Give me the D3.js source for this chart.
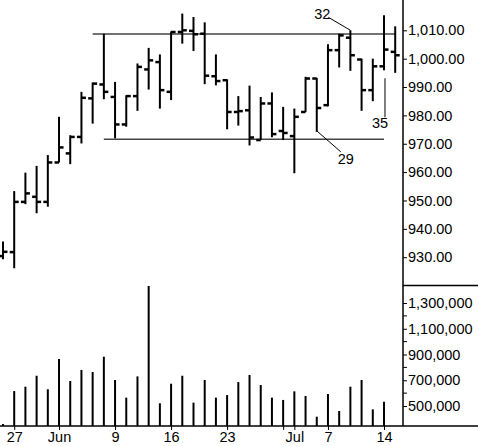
<!DOCTYPE html>
<html>
<head>
<meta charset="utf-8">
<script src="https://cdn.jsdelivr.net/npm/d3@7"></script>
<style>
  body { margin: 0; background: #fff; }
  svg { display: block; }
  text { font-family: "Liberation Sans", Arial, sans-serif; font-size: 14.5px; fill: #000; }
</style>
</head>
<body>
<div id="chart"></div>
<script>
// daily bars, 2003-05-23 .. 2003-07-15
const dates = ["05-23","05-27","05-28","05-29","05-30","06-02","06-03","06-04","06-05","06-06",
  "06-09","06-10","06-11","06-12","06-13","06-16","06-17","06-18","06-19","06-20",
  "06-23","06-24","06-25","06-26","06-27","06-30","07-01","07-02","07-03","07-07",
  "07-08","07-09","07-10","07-11","07-14","07-15"];
const open  = [930.4,931.8,949.5,951.3,949.5,963.4,966.6,972.4,986.0,990.9,
  986.5,976.8,986.8,996.2,998.8,988.3,1009.4,1009.8,1008.8,993.8,
  992.4,981.2,981.8,971.3,984.2,974.5,972.7,981.2,993.0,983.6,
  1003.0,1007.4,999.7,988.9,997.3,1002.4];
const high  = [935.5,953.3,959.8,962.2,966.0,979.5,973.0,988.3,991.6,1008.8,
  991.8,987.1,998.3,1003.8,1001.5,1009.6,1015.9,1014.7,1012.8,1001.5,
  992.7,986.8,990.5,986.5,988.1,983.0,982.4,993.6,993.2,1005.1,
  1008.8,1010.0,1000.0,1000.0,1015.3,1011.4];
const low   = [929.3,926.1,948.7,945.5,947.8,963.4,962.8,970.1,977.1,985.7,
  971.9,976.0,981.6,989.1,982.4,985.4,1005.3,1002.7,991.0,990.6,
  975.1,976.4,969.4,971.3,972.3,971.3,959.6,981.2,974.2,983.2,
  996.9,995.7,981.6,985.0,995.9,995.0];
const close = [931.9,949.5,952.5,949.5,963.4,968.7,972.4,986.2,991.2,988.3,
  976.8,986.8,997.1,999.4,988.9,1009.4,1010.0,1008.6,994.0,992.1,
  981.2,981.5,972.2,984.2,973.4,973.8,979.5,993.0,982.6,1003.0,
  1008.2,1001.2,988.9,997.3,1003.2,1001.2];
const volume = [360000,616000,650000,735000,630000,865000,694000,780000,764000,883000,
  702000,565000,730000,1432000,521000,673000,735000,526000,702000,565000,
  585000,686000,741000,663000,565000,547000,614000,578000,417000,593000,
  461000,650000,702000,474000,533000,null];

const priceTicks = [930,940,950,960,970,980,990,1000,1010];
const volTicks = [500000,700000,900000,1100000,1300000];
const volMinor = [600000,800000,1000000,1200000];
const volBase = 345000;

const dateTicks = ["05-27","06-02","06-09","06-16","06-23","06-30","07-01","07-07","07-14"];
const dateLabels = ["27","Jun","9","16","23","","Jul","7","14"];

// trend lines: [level, from, to]
const resistance = [1008.7, "06-05", "07-15"];
const support = [971.6, "06-06", "07-14"];

const W = 478, H = 446;
const axisX = 403, baseY = 426;

const svg = d3.select("#chart").append("svg")
  .attr("width", W).attr("height", H);

const x = d3.scalePoint().domain(dates).range([3, 395.2]);
const y = d3.scaleLinear().domain([930, 1010]).range([257.2, 30.3]);
const yv = d3.scaleLinear().domain([500000, 1300000]).range([406, 303]);

// trend lines
[resistance, support].forEach(function(t) {
  svg.append("line")
    .attr("x1", x(t[1])).attr("x2", x(t[2]))
    .attr("y1", y(t[0])).attr("y2", y(t[0]))
    .attr("stroke", "#444").attr("stroke-width", 1.5);
});

// price bars
const bars = svg.append("g");
dates.forEach(function(d, i) {
  const cx = x(d);
  bars.append("line")
    .attr("x1", cx).attr("x2", cx)
    .attr("y1", y(high[i])).attr("y2", y(low[i]))
    .attr("stroke", "#000").attr("stroke-width", 2);
  bars.append("line")
    .attr("x1", cx - 4.5).attr("x2", cx)
    .attr("y1", y(open[i])).attr("y2", y(open[i]))
    .attr("stroke", "#000").attr("stroke-width", 2.5);
  bars.append("line")
    .attr("x1", cx).attr("x2", cx + 4.5)
    .attr("y1", y(close[i])).attr("y2", y(close[i]))
    .attr("stroke", "#000").attr("stroke-width", 2.5);
});

// volume bars
svg.append("g").selectAll("line")
  .data(dates.filter((d, i) => volume[i] != null))
  .enter().append("line")
  .attr("x1", d => x(d)).attr("x2", d => x(d))
  .attr("y1", baseY)
  .attr("y2", d => yv(volume[dates.indexOf(d)]))
  .attr("stroke", "#000").attr("stroke-width", 2);

// annotations
const ann = svg.append("g").attr("stroke", "#000").attr("stroke-width", 1);
ann.append("line")
  .attr("x1", x("07-09")).attr("y1", y(high[31]))
  .attr("x2", x("07-09") - 22).attr("y2", y(high[31]) - 13);
svg.append("text").attr("x", x("07-09") - 28).attr("y", y(high[31]) - 15)
  .attr("text-anchor", "middle").attr("dominant-baseline", "middle").text("32");

ann.append("line")
  .attr("x1", x("07-03")).attr("y1", y(low[28]) - 1)
  .attr("x2", x("07-03") + 24).attr("y2", y(low[28]) + 20);
svg.append("text").attr("x", x("07-03") + 29).attr("y", y(low[28]) + 28)
  .attr("text-anchor", "middle").attr("dominant-baseline", "middle").text("29");

ann.append("line")
  .attr("x1", x("07-14") + 1).attr("y1", y(low[34]) + 8)
  .attr("x2", x("07-14") + 1).attr("y2", y(low[34]) + 47);
svg.append("text").attr("x", x("07-14") - 4).attr("y", y(low[34]) + 54)
  .attr("text-anchor", "middle").attr("dominant-baseline", "middle").text("35");

// frame lines
svg.append("line").attr("x1", axisX).attr("x2", axisX).attr("y1", 0).attr("y2", baseY)
  .attr("stroke", "#000").attr("stroke-width", 1.5);
svg.append("line").attr("x1", 0).attr("x2", W).attr("y1", baseY).attr("y2", baseY)
  .attr("stroke", "#000").attr("stroke-width", 1.5);
svg.append("line").attr("x1", axisX).attr("x2", W).attr("y1", 285.5).attr("y2", 285.5)
  .attr("stroke", "#000").attr("stroke-width", 1.5);

// price axis
const fmtP = d3.format(",.2f");
const pa = svg.append("g").attr("transform", "translate(" + axisX + ",0)")
  .call(d3.axisRight(y).tickValues(priceTicks).tickSize(4).tickPadding(1).tickFormat(fmtP));
pa.select(".domain").remove();
pa.selectAll("text").attr("font-size", 14.5).attr("font-family", "Liberation Sans");

// volume axis
const va = svg.append("g").attr("transform", "translate(" + axisX + ",0)")
  .call(d3.axisRight(yv).tickValues(volTicks).tickSize(4).tickPadding(1).tickFormat(d3.format(",")));
va.select(".domain").remove();
va.selectAll("text").attr("font-size", 14.5).attr("font-family", "Liberation Sans");
svg.append("g").selectAll("line").data(volMinor).enter().append("line")
  .attr("x1", axisX).attr("x2", axisX + 4)
  .attr("y1", d => yv(d)).attr("y2", d => yv(d))
  .attr("stroke", "#000");

// date axis
const xa = svg.append("g").attr("transform", "translate(0," + baseY + ")")
  .call(d3.axisBottom(x).tickValues(dateTicks).tickSize(4).tickPadding(2)
    .tickFormat((d, i) => dateLabels[i]));
xa.select(".domain").remove();
xa.selectAll("text").attr("font-size", 14).attr("font-family", "Liberation Sans");
</script>
</body>
</html>
